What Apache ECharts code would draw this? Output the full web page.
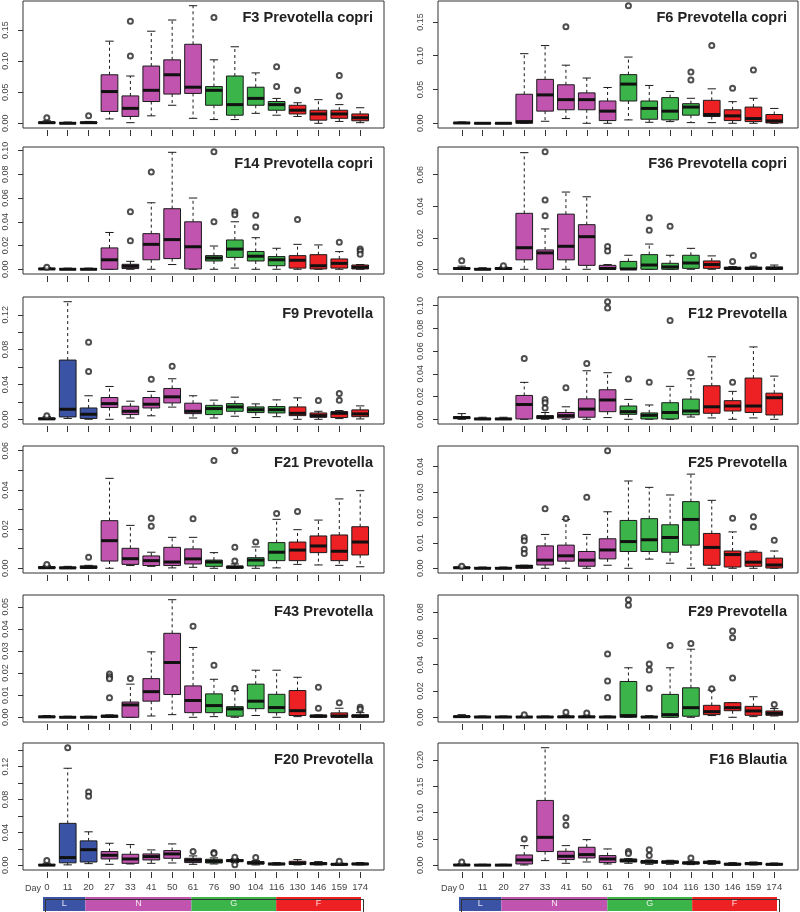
<!DOCTYPE html>
<html><head><meta charset="utf-8">
<script src="https://cdn.jsdelivr.net/npm/echarts@6/dist/echarts.min.js"></script>
<style>html,body{margin:0;padding:0;background:#fff}#c{width:800px;height:912px}</style>
</head><body><div id="c"></div><script>
// ---------------- data ----------------
const days = [0,11,20,27,33,41,50,61,76,90,104,116,130,146,159,174];
const dayPhase = ['L','L','L','N','N','N','N','N','G','G','G','G','F','F','F','F'];
const phaseNames = ['L','N','G','F'];
const phaseSpans = [2,5,4,4];
const phaseColors = {L:'#3A53A4', N:'#C054AE', G:'#3BB44A', F:'#ED2024'};

// each row: [min, q1, median, q3, max] per day
const f3Stats = [[0,0,0.001,0.002,0.004],[0,0,0,0.001,0.002],[0,0,0.001,0.002,0.003],[0.007,0.019,0.051,0.078,0.132],[0.001,0.011,0.024,0.044,0.076],[0.012,0.035,0.053,0.092,0.148],[0.029,0.047,0.078,0.102,0.166],[0.008,0.048,0.058,0.127,0.189],[0.006,0.029,0.053,0.059,0.102],[0.006,0.013,0.030,0.076,0.123],[0.016,0.029,0.040,0.058,0.081],[0.013,0.021,0.030,0.035,0.040],[0.011,0.015,0.021,0.029,0.033],[0,0.005,0.015,0.021,0.038],[0.003,0.008,0.015,0.021,0.030],[0.001,0.004,0.009,0.015,0.025]];
const f3Out = [[0,0.009],[2,0.012],[4,0.164],[4,0.108],[8,0.170],[11,0.091],[11,0.059],[12,0.053],[14,0.077],[14,0.044]];
const f3Ticks = [0,0.05,0.10,0.15];
const f3Labels = [0,0.05,0.10,0.15];

const f6Stats = [[0,0,0.0005,0.001,0.002],[0,0,0,0.0005,0.001],[0,0,0,0.0005,0.001],[0,0,0.0025,0.043,0.103],[0.003,0.018,0.042,0.065,0.115],[0.007,0.020,0.035,0.057,0.086],[0,0.020,0.035,0.045,0.067],[0,0.004,0.018,0.033,0.053],[0.005,0.033,0.058,0.072,0.098],[0.0015,0.006,0.022,0.033,0.056],[0.0025,0.005,0.018,0.038,0.047],[0.001,0.012,0.024,0.029,0.037],[0.001,0.010,0.013,0.034,0.051],[0,0.004,0.011,0.020,0.032],[0,0.0025,0.007,0.024,0.037],[0,0.0005,0.0035,0.013,0.022]];
const f6Out = [[5,0.143],[8,0.174],[11,0.076],[11,0.064],[12,0.115],[13,0.052],[14,0.079]];
const f6Ticks = [0,0.05,0.10,0.15];
const f6Labels = [0,0.05,0.10,0.15];

const f14Stats = [[0,0,0.0003,0.0008,0.0015],[0,0,0,0.0005,0.001],[0,0,0,0.0005,0.001],[0,0,0.008,0.018,0.031],[0,0.0006,0.0025,0.0042,0.0067],[0,0.008,0.021,0.030,0.056],[0.004,0.009,0.025,0.051,0.0985],[0,0.0003,0.019,0.040,0.060],[0,0.007,0.0095,0.0115,0.0196],[0.001,0.010,0.017,0.0247,0.040],[0,0.007,0.011,0.015,0.0266],[0,0.003,0.008,0.0107,0.0177],[0,0.001,0.0076,0.0115,0.021],[0,0.0003,0.003,0.0123,0.0205],[0,0.001,0.005,0.0087,0.0149],[0,0.0003,0.0017,0.0036,0.004]];
const f14Out = [[0,0.0017],[4,0.0485],[4,0.024],[5,0.082],[8,0.099],[8,0.040],[9,0.0485],[9,0.046],[10,0.0454],[10,0.0356],[12,0.042],[14,0.0227],[15,0.017],[15,0.0154],[15,0.0126]];
const f14Ticks = [0,0.02,0.04,0.06,0.08,0.10];
const f14Labels = [0,0.02,0.04,0.06,0.08,0.10];

const f36Stats = [[0,0,0.0005,0.001,0.002],[0,0,0,0.0005,0.001],[0,0,0.0005,0.001,0.0015],[0,0.006,0.0137,0.0355,0.074],[0,0,0.0104,0.0123,0.0256],[0,0.006,0.0146,0.035,0.049],[0,0.0025,0.0207,0.0283,0.046],[0,0,0.0005,0.0025,0.003],[0,0,0.0002,0.005,0.0089],[0,0,0.0027,0.0093,0.016],[0,0,0.0015,0.0038,0.0089],[0,0.0006,0.004,0.0089,0.0133],[0,0.0006,0.003,0.0053,0.0085],[0,0,0.0006,0.0013,0.0017],[0,0,0.0006,0.0013,0.002],[0,0,0.0006,0.0015,0.0027]];
const f36Out = [[0,0.0055],[2,0.0023],[4,0.0746],[4,0.044],[4,0.034],[7,0.0144],[7,0.0116],[9,0.0327],[9,0.0247],[10,0.0273],[13,0.0049],[14,0.0087]];
const f36Ticks = [0,0.02,0.04,0.06];
const f36Labels = [0,0.02,0.04,0.06];

const f9Stats = [[0,0,0.0005,0.0015,0.003],[0.001,0.0027,0.0115,0.068,0.135],[0,0.001,0.0058,0.013,0.027],[0,0.0135,0.018,0.025,0.0377],[0.0015,0.0054,0.0092,0.015,0.0208],[0.004,0.013,0.0173,0.025,0.032],[0.014,0.0188,0.0258,0.0354,0.0465],[0.0015,0.0065,0.0092,0.0185,0.027],[0.0015,0.0054,0.0123,0.016,0.022],[0.0035,0.0092,0.0142,0.018,0.0254],[0.002,0.0077,0.011,0.0142,0.0177],[0.003,0.0073,0.011,0.0146,0.0223],[0,0.0042,0.0069,0.0142,0.0246],[0,0.0023,0.0042,0.0073,0.0092],[0.0008,0.002,0.0069,0.0088,0.010],[0.0004,0.003,0.0062,0.0108,0.0154]];
const f9Out = [[0,0.004],[2,0.0885],[2,0.055],[5,0.046],[6,0.061],[13,0.0215],[14,0.0296],[14,0.022]];
const f9Ticks = [0,0.02,0.04,0.06,0.08,0.10,0.12];
const f9Labels = [0,0.04,0.08,0.12];

const f12Stats = [[0,0.0006,0.0015,0.0023,0.005],[0,0,0.0003,0.0008,0.0018],[0,0,0.0003,0.0008,0.0018],[0,0.0003,0.013,0.021,0.0325],[0,0.0006,0.002,0.0032,0.006],[0,0.0012,0.0032,0.006,0.011],[0,0.0018,0.009,0.018,0.0427],[0.0015,0.0067,0.017,0.026,0.041],[0,0.0044,0.0067,0.0117,0.0175],[0,0.0003,0.0035,0.0056,0.0126],[0,0.0003,0.006,0.0146,0.029],[0.002,0.004,0.0073,0.0178,0.0357],[0.0012,0.0053,0.011,0.0295,0.055],[0,0.0073,0.0117,0.0164,0.0246],[0.0012,0.006,0.0117,0.0363,0.0637],[0,0.0038,0.019,0.023,0.038]];
const f12Out = [[3,0.0535],[4,0.0175],[4,0.0146],[4,0.010],[5,0.0278],[6,0.049],[7,0.1035],[7,0.098],[8,0.0354],[9,0.0327],[10,0.087],[11,0.041],[13,0.0325]];
const f12Ticks = [0,0.02,0.04,0.06,0.08,0.10];
const f12Labels = [0,0.02,0.04,0.06,0.08,0.10];

const f21Stats = [[0,0,0.0003,0.0008,0.0015],[0,0,0.0002,0.0006,0.001],[0,0,0.0005,0.0012,0.0015],[0,0.0037,0.0141,0.0243,0.0459],[0.0014,0.002,0.0049,0.0102,0.0219],[0.001,0.0014,0.0039,0.0063,0.0082],[0.0002,0.0014,0.0032,0.0107,0.0158],[0.0005,0.0022,0.0048,0.0099,0.0158],[0,0.001,0.0032,0.0042,0.008],[0,0,0.0007,0.001,0.0022],[0,0.0012,0.0042,0.0054,0.0109],[0.0002,0.0039,0.0082,0.0131,0.025],[0.002,0.0039,0.0093,0.0134,0.0197],[0.0017,0.008,0.0114,0.0165,0.0246],[0.0015,0.0039,0.0087,0.017,0.0354],[0.0008,0.0068,0.0134,0.0212,0.0396]];
const f21Out = [[0,0.002],[2,0.0056],[5,0.0255],[5,0.0214],[7,0.0253],[8,0.055],[9,0.060],[9,0.0107],[9,0.0037],[10,0.0134],[11,0.028],[12,0.029]];
const f21Ticks = [0,0.01,0.02,0.03,0.04,0.05,0.06];
const f21Labels = [0,0.02,0.04,0.06];

const f25Stats = [[0,0,0.0002,0.0005,0.0008],[0,0,0,0.0003,0.0005],[0,0,0,0.0003,0.0005],[0,0,0.0007,0.0012,0.0012],[0,0.0013,0.0032,0.0088,0.0133],[0,0.0028,0.0049,0.0091,0.0192],[0,0.0008,0.0032,0.0066,0.0133],[0.0012,0.0037,0.0072,0.0116,0.0222],[0,0.0066,0.0105,0.0188,0.0343],[0.0036,0.0066,0.0112,0.0195,0.0318],[0.002,0.0063,0.0121,0.0171,0.0288],[0,0.0091,0.0192,0.0262,0.037],[0,0.0012,0.0082,0.0137,0.0267],[0,0.0005,0.0054,0.0068,0.0143],[0,0.0008,0.0024,0.0063,0.0068],[0,0.0001,0.0013,0.004,0.0068]];
const f25Out = [[0,0.0008],[3,0.0121],[3,0.0108],[3,0.0075],[3,0.0058],[4,0.0234],[5,0.0196],[6,0.0279],[7,0.0462],[13,0.0197],[14,0.0203],[14,0.0163],[15,0.011]];
const f25Ticks = [0,0.01,0.02,0.03,0.04];
const f25Labels = [0,0.01,0.02,0.03,0.04];

const f43Stats = [[0,0,0.0002,0.0005,0.0008],[0,0,0,0.0003,0.0005],[0,0,0,0.0003,0.0005],[0,0,0.0005,0.0009,0.0011],[0,0,0.0056,0.0069,0.015],[0.0006,0.0073,0.0116,0.0175,0.0296],[0.0012,0.0103,0.0248,0.038,0.0532],[0,0.0021,0.0076,0.0142,0.0316],[0.0003,0.0021,0.0053,0.0106,0.0172],[0,0.0005,0.0038,0.0048,0.0121],[0.0008,0.0039,0.0073,0.015,0.0213],[0,0.0021,0.0044,0.0104,0.0213],[0.0003,0.0008,0.003,0.0121,0.0181],[0,0,0.0006,0.0009,0.0011],[0,0,0.0006,0.002,0.0041],[0,0,0.0006,0.0011,0.0021]];
const f43Out = [[3,0.0196],[3,0.0184],[3,0.0174],[3,0.0088],[4,0.0175],[7,0.0412],[8,0.0236],[9,0.013],[13,0.0136],[13,0.0041],[14,0.0066],[15,0.0045],[15,0.0036]];
const f43Ticks = [0,0.01,0.02,0.03,0.04,0.05];
const f43Labels = [0,0.01,0.02,0.03,0.04,0.05];

const f29Stats = [[0,0,0.0005,0.001,0.002],[0,0,0.0002,0.0006,0.001],[0,0,0.0002,0.0006,0.001],[0,0,0.0002,0.0006,0.001],[0,0,0.0002,0.0006,0.001],[0,0,0.0003,0.0008,0.0015],[0,0,0.0003,0.0008,0.0015],[0,0,0.0002,0.0006,0.001],[0,0,0.0013,0.0272,0.0376],[0,0,0.0002,0.0006,0.0012],[0,0,0.002,0.0174,0.0376],[0,0.0008,0.0073,0.0224,0.0517],[0.0013,0.002,0.0043,0.0091,0.0207],[0,0.005,0.0073,0.0111,0.0111],[0.0005,0.0015,0.0048,0.0083,0.0156],[0.001,0.0015,0.003,0.0048,0.0066]];
const f29Out = [[3,0.002],[5,0.0038],[6,0.0033],[7,0.048],[7,0.0275],[7,0.015],[8,0.0893],[8,0.085],[9,0.0404],[9,0.036],[9,0.022],[10,0.0545],[11,0.056],[12,0.0217],[13,0.0656],[13,0.0605],[13,0.0298],[15,0.0098]];
const f29Ticks = [0,0.02,0.04,0.06,0.08];
const f29Labels = [0,0.02,0.04,0.06,0.08];

const f20Stats = [[0,0,0.0002,0.001,0.0025],[0.0005,0.003,0.0094,0.051,0.118],[0.002,0.004,0.019,0.0297,0.0407],[0.0012,0.0077,0.0122,0.0167,0.0268],[0.0016,0.0024,0.0077,0.0134,0.0252],[0.0024,0.0065,0.0106,0.0138,0.0187],[0.0028,0.0085,0.0138,0.0179,0.026],[0.0012,0.0033,0.0061,0.0085,0.0114],[0.0016,0.0028,0.0049,0.0073,0.009],[0.0033,0.0045,0.0057,0.0069,0.0081],[0.0004,0.0016,0.0028,0.0045,0.0057],[0.0004,0.0008,0.0016,0.0024,0.0033],[0.0004,0.0012,0.0024,0.0049,0.0069],[0.0004,0.0008,0.002,0.0033,0.0045],[0,0.0004,0.0012,0.002,0.0028],[0.0004,0.0008,0.0016,0.0024,0.0033]];
const f20Out = [[0,0.0057],[1,0.143],[2,0.089],[2,0.084],[7,0.0167],[8,0.0155],[8,0.0142],[9,0.0098],[9,0.0008],[10,0.0094],[14,0.0049]];
const f20Ticks = [0,0.02,0.04,0.06,0.08,0.10,0.12,0.14];
const f20Labels = [0,0.04,0.08,0.12];

const f16Stats = [[0,0,0.0005,0.0015,0.003],[0,0,0.0003,0.001,0.002],[0,0,0.0003,0.001,0.002],[0.0006,0.0025,0.0101,0.0196,0.0373],[0.0089,0.026,0.053,0.123,0.223],[0.0038,0.0108,0.0171,0.0266,0.0373],[0.0063,0.0139,0.0203,0.0342,0.0487],[0.0025,0.0051,0.012,0.0184,0.031],[0.0038,0.0063,0.0089,0.012,0.0127],[0.0019,0.0038,0.007,0.0089,0.0101],[0.0019,0.0038,0.0063,0.0082,0.0095],[0.0013,0.0025,0.0044,0.0063,0.0076],[0.0019,0.0032,0.0057,0.0076,0.0089],[0,0.0006,0.0019,0.0038,0.0051],[0.0006,0.0013,0.0032,0.0051,0.0063],[0,0.0006,0.0019,0.0032,0.0044]];
const f16Out = [[0,0.0063],[3,0.050],[5,0.090],[5,0.076],[8,0.026],[8,0.0222],[9,0.0297],[9,0.0184],[11,0.0139]];
const f16Ticks = [0,0.05,0.10,0.15,0.20];
const f16Labels = [0,0.05,0.10,0.15,0.20];

const panels = [
  {title:'F3 Prevotella copri',  stats:f3Stats,  out:f3Out,  ticks:f3Ticks,  labels:f3Labels},
  {title:'F6 Prevotella copri',  stats:f6Stats,  out:f6Out,  ticks:f6Ticks,  labels:f6Labels},
  {title:'F14 Prevotella copri', stats:f14Stats, out:f14Out, ticks:f14Ticks, labels:f14Labels},
  {title:'F36 Prevotella copri', stats:f36Stats, out:f36Out, ticks:f36Ticks, labels:f36Labels},
  {title:'F9 Prevotella',        stats:f9Stats,  out:f9Out,  ticks:f9Ticks,  labels:f9Labels},
  {title:'F12 Prevotella',       stats:f12Stats, out:f12Out, ticks:f12Ticks, labels:f12Labels},
  {title:'F21 Prevotella',       stats:f21Stats, out:f21Out, ticks:f21Ticks, labels:f21Labels},
  {title:'F25 Prevotella',       stats:f25Stats, out:f25Out, ticks:f25Ticks, labels:f25Labels},
  {title:'F43 Prevotella',       stats:f43Stats, out:f43Out, ticks:f43Ticks, labels:f43Labels},
  {title:'F29 Prevotella',       stats:f29Stats, out:f29Out, ticks:f29Ticks, labels:f29Labels},
  {title:'F20 Prevotella',       stats:f20Stats, out:f20Out, ticks:f20Ticks, labels:f20Labels},
  {title:'F16 Blautia',          stats:f16Stats, out:f16Out, ticks:f16Ticks, labels:f16Labels}
];

// ---------------- layout ----------------
const W = 800;
const colLeft = [23, 438];
const colWidth = [361, 360];
const rowTop = [1, 147, 297, 446, 595, 743];
const rowHeight = 127;
const barLeft = [43, 459], barWidth = 318, barTop = 897, barHeight = 14;
const FONT = '"Liberation Sans", Arial, Helvetica, sans-serif';
const idxs = days.map((d, k) => k);

function renderBox(params, api) {
  const k = api.value(0);
  const lo = api.coord([k, api.value(1)]);
  const q1 = api.coord([k, api.value(2)]);
  const md = api.coord([k, api.value(3)]);
  const q3 = api.coord([k, api.value(4)]);
  const hi = api.coord([k, api.value(5)]);
  const unit = api.size([1, 0])[0];
  const bw = unit * 0.8, cap = bw / 4;
  const x = md[0];
  const dash = {stroke:'#1a1a1a', lineWidth:1, lineDash:[3,3]};
  const solid = {stroke:'#1a1a1a', lineWidth:1};
  return {type:'group', children:[
    {type:'line', shape:{x1:x, y1:q3[1], x2:x, y2:hi[1]}, style:dash},
    {type:'line', shape:{x1:x, y1:q1[1], x2:x, y2:lo[1]}, style:dash},
    {type:'line', shape:{x1:x-cap, y1:hi[1], x2:x+cap, y2:hi[1]}, style:solid},
    {type:'line', shape:{x1:x-cap, y1:lo[1], x2:x+cap, y2:lo[1]}, style:solid},
    {type:'rect', shape:{x:x-bw/2, y:q3[1], width:bw, height:Math.max(q1[1]-q3[1], 0.5)},
      style:{fill:phaseColors[dayPhase[k]], stroke:'#1a1a1a', lineWidth:1}},
    {type:'line', shape:{x1:x-bw/2, y1:md[1], x2:x+bw/2, y2:md[1]}, style:{stroke:'#111', lineWidth:3}}
  ]};
}

const grid = [], xAxis = [], yAxis = [], series = [], title = [], graphic = [];

panels.forEach((p, i) => {
  const col = i % 2, row = Math.floor(i / 2);
  let vals = [];
  p.stats.forEach(s => vals = vals.concat(s));
  p.out.forEach(o => vals.push(o[1]));
  const dmin = Math.min.apply(null, vals), dmax = Math.max.apply(null, vals);
  const ext = (dmax - dmin) * 0.04;
  grid.push({left:colLeft[col], top:rowTop[row], width:colWidth[col], height:rowHeight,
    show:true, borderColor:'#333', borderWidth:1, backgroundColor:'transparent'});
  xAxis.push({gridIndex:i, type:'value', position:'bottom', min:-1.14, max:16.14, offset:2,
    axisLine:{show:false, onZero:false}, splitLine:{show:false},
    axisTick:{show:true, length:6, customValues:idxs, lineStyle:{color:'#333'}},
    axisLabel:{show: row === 5, customValues:idxs, formatter:v => String(days[v]),
      margin:10, fontSize:9.5, color:'#444', fontFamily:FONT}});
  yAxis.push({gridIndex:i, type:'value', position:'left', min:dmin - ext, max:dmax + ext,
    axisLine:{show:false, onZero:false}, splitLine:{show:false},
    axisTick:{show:true, length:5, customValues:p.ticks, lineStyle:{color:'#333'}},
    axisLabel:{customValues:p.labels, rotate:90, fontSize:9, color:'#444', margin:13,
      fontFamily:FONT, formatter:v => v.toFixed(2)}});
  series.push({type:'custom', xAxisIndex:i, yAxisIndex:i, renderItem:renderBox, silent:true,
    data:p.stats.map((s, k) => [k].concat(s)), encode:{x:0, y:[1,2,3,4,5]}});
  series.push({type:'scatter', xAxisIndex:i, yAxisIndex:i, silent:true, data:p.out,
    symbol:'emptyCircle', symbolSize:5, itemStyle:{color:'#222', borderWidth:0.9}});
  title.push({text:p.title, right: W - (colLeft[col] + colWidth[col]) + 11, top: rowTop[row] + 9,
    padding:0, textStyle:{fontSize:14.6, fontWeight:'bold', color:'#222', fontFamily:FONT}});
});

// phase bars
[0, 1].forEach(col => {
  const gi = grid.length;
  grid.push({left:barLeft[col], top:barTop, width:barWidth, height:barHeight});
  xAxis.push({gridIndex:gi, type:'value', min:0, max:15, show:false});
  yAxis.push({gridIndex:gi, type:'category', data:['phase'], show:false});
  phaseNames.forEach((ph, k) => {
    series.push({type:'bar', xAxisIndex:gi, yAxisIndex:gi, stack:'phase' + col, silent:true,
      barCategoryGap:'0%', data:[phaseSpans[k]],
      itemStyle:{color:phaseColors[ph]},
      label:{show:true, position:'inside', formatter:ph, color:'rgba(255,255,255,0.85)',
        fontSize:9, fontFamily:FONT}});
  });
  graphic.push({type:'rect', left:barLeft[col], top:barTop, z:100,
    shape:{width:barWidth, height:barHeight}, style:{fill:'none', stroke:'#333', lineWidth:1}});
  graphic.push({type:'text', left: colLeft[col] + (col === 0 ? 2 : 3), top: 884,
    style:{text:'Day', fontSize:9, fill:'#444', fontFamily:FONT}});
});

const chart = echarts.init(document.getElementById('c'), null, {renderer:'canvas'});
chart.setOption({animation:false, backgroundColor:'#fff', title, grid, xAxis, yAxis, series, graphic});
</script></body></html>
